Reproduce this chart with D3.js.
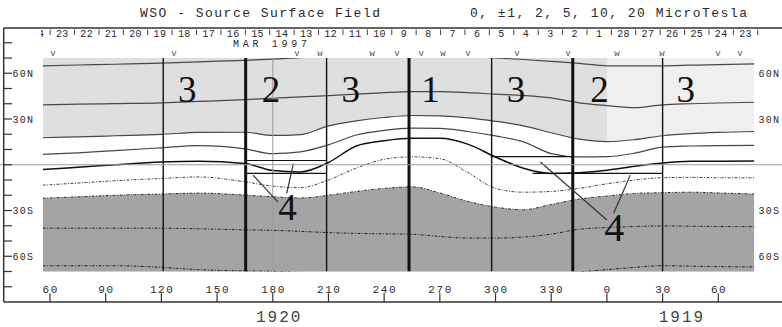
<!DOCTYPE html>
<html>
<head>
<meta charset="utf-8">
<script src="https://cdn.jsdelivr.net/npm/d3@7"></script>
<style>
  body { margin: 0; background: #fff; }
  svg { display: block; }
  text { font-family: "Liberation Mono", "DejaVu Sans Mono", monospace; fill: #2a2a2a; }
</style>
</head>
<body>
<div id="chart"></div>
<script>
const lons = [56, 75, 95, 120, 140, 165, 180, 195, 210, 225, 240, 255, 270, 285, 300, 315, 330, 345, 360, 375, 390, 405, 420, 440];

// contour latitudes (deg) for each level, at the longitudes above
const pos10   = [64.9, 65.4, 65.9, 66.6, 67.5, 68.5, 69.3, 70.3, 71.2, 71.8, 72, 72, 72, 71.2, 70, 69, 67.8, 66.5, 64.9, 64.8, 64.9, 65.3, 65.7, 66.2];
const pos5    = [39.3, 39.7, 40.1, 40.6, 41.5, 42.7, 43.6, 44.5, 45.3, 46.3, 47.3, 47.9, 47.9, 47.3, 46.3, 45.4, 43.8, 40.6, 38.8, 37.4, 39.3, 40, 40.5, 41];
const pos2    = [17.7, 18.3, 19.0, 19.9, 21.2, 21.3, 19.2, 19.8, 25.5, 28.8, 31, 32.3, 32, 30.8, 28.5, 25.5, 21, 16.8, 15.2, 16.5, 19, 20.4, 21.2, 21.8];
const pos1    = [6.8, 7.8, 9.3, 11.1, 12.5, 10.4, 7.3, 8.5, 13, 19.5, 22.6, 24, 23.8, 21.8, 18.9, 15, 7.3, 5.1, 5.3, 7.6, 11.6, 12.3, 12.6, 12.7];
const neutral = [-3.1, -1.6, 0, 1.8, 2.3, 0.8, -3.8, -4.7, 1.5, 12.3, 15.7, 17.3, 17.3, 13.5, 5.1, -2.3, -5.7, -5.2, -3.6, -1.0, 1.2, 2.3, 2.3, 2.5];
const neg1    = [-13.4, -12, -10.5, -9, -8, -11.2, -14, -15, -10, -2.2, 3.6, 5.2, 4, -5, -15.5, -18, -17.5, -15.5, -12.5, -10, -8.5, -8.3, -8.5, -8.6];
const neg2    = [-22, -21, -20, -19.2, -18.6, -19.9, -21, -21.8, -20, -17.5, -15.5, -14.5, -18.5, -24, -27.8, -29.5, -26, -22.5, -20.5, -18.8, -18.3, -18, -18.5, -19.2];
const neg5    = [-41.6, -41.6, -41.6, -41.6, -42, -42.7, -43, -43.7, -44.5, -45, -45.3, -45.6, -47, -48.1, -48.1, -47.4, -45.5, -42.3, -41.2, -40.5, -40.1, -40.3, -40.5, -40.6];
const neg10   = [-66.2, -66.2, -66.2, -67.3, -68.8, -69.6, -69.9, -70.5, -71.5, -72, -72, -72, -72, -72, -72, -72, -71.5, -70.3, -68.8, -67.3, -66.2, -66.5, -66.8, -67];

// axis ticks
const lonTicks = [60, 90, 120, 150, 180, 210, 240, 270, 300, 330, 360, 390, 420];
const latLabels = ["60N", "30N", "30S", "60S"];
const latLabelVals = [60, 30, -30, -60];
const latTicks = [80, 70, 60, 50, 40, 30, 20, 10, 0, -10, -20, -30, -40, -50, -60, -70, -80];

// carrington rotations under the axis
const rotNames = ["1920", "1919"];
const rotLon = [183, 400];

// dates along the top (time runs right to left)
const dateStart = new Date(Date.UTC(1997, 1, 23));
const dateEnd = new Date(Date.UTC(1997, 2, 24));
const dateLonEnd = 434.7, dateLonStart = 53.5;

// spacecraft markers on the top edge
const markLon = [61.6, 126.8, 193, 205.4, 233.5, 246.9, 259.9, 271.7, 285.2, 311.6, 339, 365.4, 389.6, 419.8, 431.7];
const markType = ["v", "v", "v", "w", "w", "v", "v", "w", "v", "v", "v", "w", "w", "v", "v"];

// region boundaries and labels
const boundLon = [121, 165.4, 180, 209, 253.4, 297.9, 341.6, 390];
const boundKind = ["thin", "thick", "faint", "thin", "thick", "thin", "thick", "thin"];
const regionText = ["3", "2", "3", "1", "3", "2", "3"];
const regionLon = [134, 179, 222, 265, 311, 356, 402.5];
const fourLon = [188, 364];
const fourLat = [-36.2, -49.9];
const fourSize = [37, 40];
// leader lines [lon1, lat1, lon2, lat2]
const leaders = [[169.4, -6.8, 182.8, -24.5], [187.5, -18.8, 191.1, 0.8], [324.2, 1.8, 360, -36.2], [363.6, -31.8, 372.6, -6.8]];
// region 4 band edges [lonFrom, lonTo, lat]
const bandEdges = [[165.4, 209, 2.8], [165.4, 209, -5.6], [297.9, 341.6, 5.3], [320, 390, -5.6]];

const plotLon = [56.2, 439.3];

const W = 782, H = 327;
const x = d3.scaleLinear().domain([60, 420]).range([50, 718.3]);
const y = d3.scaleLinear().domain([90, -90]).range([27.5, 302]);

const svg = d3.select("#chart").append("svg").attr("width", W).attr("height", H);
const defs = svg.append("defs");

const px0 = x(plotLon[0]), px1 = x(plotLon[1]), py0 = y(70), py1 = y(-70);
defs.append("clipPath").attr("id", "plotClip").append("rect")
  .attr("x", px0).attr("y", py0).attr("width", px1 - px0).attr("height", py1 - py0);
defs.append("clipPath").attr("id", "dateClip").append("rect")
  .attr("x", 41).attr("y", 0).attr("width", W).attr("height", 50);

const rows = lons.map((lon, i) => ({
  lon, pos10: pos10[i], pos5: pos5[i], pos2: pos2[i], pos1: pos1[i], neutral: neutral[i],
  neg1: neg1[i], neg2: neg2[i], neg5: neg5[i], neg10: neg10[i]
}));

const plot = svg.append("g").attr("clip-path", "url(#plotClip)");

// shading
plot.append("rect").attr("x", px0).attr("y", py0).attr("width", px1 - px0).attr("height", py1 - py0)
  .attr("fill", "#dfdfdf");
plot.append("rect").attr("x", x(360)).attr("y", py0).attr("width", px1 - x(360)).attr("height", py1 - py0)
  .attr("fill", "#efefef");
plot.append("path").datum(rows)
  .attr("d", d3.area().x(d => x(d.lon)).y0(d => y(d.pos2)).y1(d => y(d.neg2)).curve(d3.curveMonotoneX))
  .attr("fill", "#ffffff");
plot.append("path").datum(rows)
  .attr("d", d3.area().x(d => x(d.lon)).y0(d => y(d.neg2)).y1(py1 + 5).curve(d3.curveMonotoneX))
  .attr("fill", "#a4a4a4");

// contours
const levels = [
  { key: "pos10", dash: null, w: 1.2, c: "#484848" },
  { key: "pos5", dash: null, w: 1.2, c: "#484848" },
  { key: "pos2", dash: null, w: 1.2, c: "#484848" },
  { key: "pos1", dash: null, w: 1.2, c: "#484848" },
  { key: "neutral", dash: null, w: 1.5, c: "#111" },
  { key: "neg1", dash: "3,1.5,1,1.5", w: 1, c: "#444" },
  { key: "neg2", dash: "3,1.5,1,1.5", w: 1, c: "#333" },
  { key: "neg5", dash: "3,1.5,1,1.5", w: 1, c: "#222" },
  { key: "neg10", dash: "3,1.5,1,1.5", w: 1, c: "#222" }
];
levels.forEach(lv => {
  plot.append("path").datum(rows)
    .attr("d", d3.line().x(d => x(d.lon)).y(d => y(d[lv.key])).curve(d3.curveMonotoneX))
    .attr("fill", "none").attr("stroke", lv.c).attr("stroke-width", lv.w)
    .attr("stroke-dasharray", lv.dash);
});

// equator reference
svg.append("line").attr("x1", 0).attr("x2", W).attr("y1", y(0)).attr("y2", y(0))
  .attr("stroke", "#9a9a9a").attr("stroke-width", 1);

// region boundaries
boundLon.forEach((lon, i) => {
  const k = boundKind[i];
  plot.append("line").attr("x1", x(lon)).attr("x2", x(lon)).attr("y1", py0).attr("y2", py1)
    .attr("stroke", k === "faint" ? "#9a9a9a" : "#111")
    .attr("stroke-width", k === "thick" ? 3 : k === "thin" ? 1.4 : 1);
});
bandEdges.forEach(b => {
  plot.append("line").attr("x1", x(b[0])).attr("x2", x(b[1])).attr("y1", y(b[2])).attr("y2", y(b[2]))
    .attr("stroke", "#111").attr("stroke-width", 1.2);
});
leaders.forEach(l => {
  plot.append("line").attr("x1", x(l[0])).attr("y1", y(l[1])).attr("x2", x(l[2])).attr("y2", y(l[3]))
    .attr("stroke", "#333").attr("stroke-width", 1.2);
});

// region numbers
regionText.forEach((t, i) => {
  svg.append("text").attr("x", x(regionLon[i])).attr("y", y(41))
    .attr("text-anchor", "middle").style("font-family", "'Liberation Serif', serif")
    .style("font-size", "37px").style("fill", "#111").text(t);
});
fourLon.forEach((lon, i) => {
  svg.append("text").attr("x", x(lon)).attr("y", y(fourLat[i]))
    .attr("text-anchor", "middle").style("font-family", "'Liberation Serif', serif")
    .style("font-size", fourSize[i] + "px").style("fill", "#111").text("4");
});

// markers on top edge
markLon.forEach((lon, i) => {
  svg.append("text").attr("x", x(lon)).attr("y", 55.5).attr("text-anchor", "middle")
    .style("font-size", "9px").style("fill", "#555").text(markType[i]);
});

// frame
const frame = svg.append("g").attr("stroke", "#333").attr("stroke-width", 1.5);
frame.append("line").attr("x1", 3.7).attr("x2", W).attr("y1", 28).attr("y2", 28);
frame.append("line").attr("x1", 3.7).attr("x2", 3.7).attr("y1", 28).attr("y2", 302);
frame.append("line").attr("x1", 3.7).attr("x2", W).attr("y1", 302).attr("y2", 302);

// latitude ticks and labels
latTicks.forEach(v => {
  svg.append("line").attr("x1", 3.7).attr("x2", 12).attr("y1", y(v)).attr("y2", y(v))
    .attr("stroke", "#333").attr("stroke-width", 1.2);
});
latLabels.forEach((t, i) => {
  svg.append("text").attr("x", 12.5).attr("y", y(latLabelVals[i])).attr("dy", "0.35em")
    .style("font-size", "10px").style("letter-spacing", "1.3px").text(t);
  svg.append("text").attr("x", 758.5).attr("y", y(latLabelVals[i])).attr("dy", "0.35em")
    .style("font-size", "10px").style("letter-spacing", "1.3px").text(t);
});

// longitude axis
lonTicks.forEach(v => {
  svg.append("line").attr("x1", x(v)).attr("x2", x(v)).attr("y1", 293.3).attr("y2", 302)
    .attr("stroke", "#333").attr("stroke-width", 1.2);
  svg.append("text").attr("x", x(v) + 0.8).attr("y", 292.5).attr("text-anchor", "middle")
    .style("font-size", "11px").style("letter-spacing", "1.6px").text(v % 360);
});
rotNames.forEach((t, i) => {
  svg.append("text").attr("x", x(rotLon[i]) + 0.8).attr("y", 321.7).attr("text-anchor", "middle")
    .style("font-size", "16px").style("letter-spacing", "2px").style("fill", "#444").text(t);
});

// date scale along the top
const dateX = d3.scaleUtc().domain([dateEnd, dateStart]).range([x(dateLonStart), x(dateLonEnd)]);
const days = d3.utcDay.range(dateStart, d3.utcDay.offset(dateEnd, 1));
const dateG = svg.append("g").attr("clip-path", "url(#dateClip)");
days.forEach(d => {
  dateG.append("text").attr("x", dateX(d)).attr("y", 37).attr("text-anchor", "middle")
    .style("font-size", "10px").style("letter-spacing", "0.4px").text(d3.utcFormat("%-d")(d));
  const sep = dateX(d3.utcHour.offset(d, -12));
  dateG.append("line").attr("x1", sep).attr("x2", sep).attr("y1", 29.5).attr("y2", 35)
    .attr("stroke", "#444").attr("stroke-width", 1);
});
svg.append("text").attr("x", 233).attr("y", 46.7).attr("textLength", 74)
  .style("font-size", "10px").text("MAR 1997");

// titles
svg.append("text").attr("x", 140).attr("y", 16.7).attr("textLength", 240)
  .style("font-size", "13px").text("WSO - Source Surface Field");
svg.append("text").attr("x", 470).attr("y", 16.7).attr("textLength", 277)
  .style("font-size", "13px").text("0, \u00B11, 2, 5, 10, 20 MicroTesla");
</script>
</body>
</html>
